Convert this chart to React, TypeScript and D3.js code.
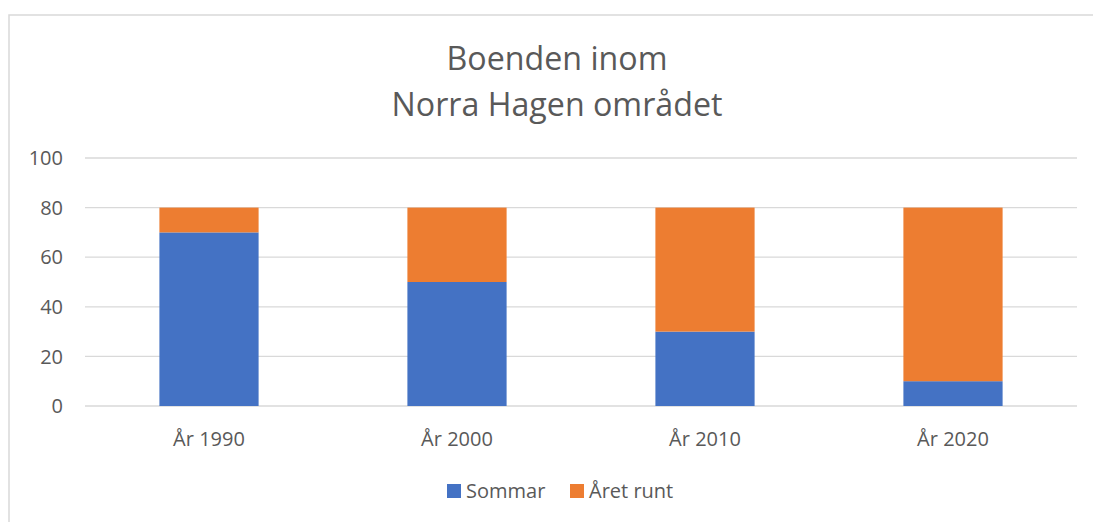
import React from "react";
import * as d3 from "d3";

const categories = ["År 1990", "År 2000", "År 2010", "År 2020"];
const sommar = [70, 50, 30, 10];
const aretRunt = [10, 30, 50, 70];
const seriesNames = ["Sommar", "Året runt"];
const yTicks = [0, 20, 40, 60, 80, 100];
const titleLines = ["Boenden inom", "Norra Hagen området"];

const W = 1093;
const H = 522;
const colors = ["#4472C4", "#ED7D31"];
const font = "'Open Sans', sans-serif";
const textColor = "#595959";

export default function App() {
  const x = d3.scaleBand<string>().domain(categories).range([85, 1077]).paddingInner(0.6).paddingOuter(0.3);
  const y = d3.scaleLinear().domain([0, 100]).range([406, 158]);
  const rows = categories.map((c, i) => ({ cat: c, Sommar: sommar[i], "Året runt": aretRunt[i] }));
  const stack = d3.stack<any>().keys(seriesNames)(rows);

  return (
    <svg width={W} height={H} style={{ position: "absolute", left: 0, top: 0 }}>
      <rect x={0} y={0} width={W} height={H} fill="#fff" />
      <rect x={9} y={15} width={W + 20} height={H + 20} fill="#fff" stroke="#d9d9d9" strokeWidth={1.5} />
      {titleLines.map((t, i) => (
        <text key={t} x={557} y={70 + i * 46} textAnchor="middle" fontFamily={font} fontSize={32.2} fill={textColor}>
          {t}
        </text>
      ))}
      {yTicks.map((t) => (
        <g key={t}>
          <line x1={85} x2={1077} y1={y(t)} y2={y(t)} stroke="#d9d9d9" strokeWidth={1.3} />
          <text x={63} y={y(t)} dy="0.36em" textAnchor="end" fontFamily={font} fontSize={20} fill={textColor}>
            {t}
          </text>
        </g>
      ))}
      {stack.map((s, si) =>
        s.map((d: any, i: number) => (
          <rect
            key={si + "-" + i}
            x={x(categories[i])}
            width={x.bandwidth()}
            y={y(d[1])}
            height={y(d[0]) - y(d[1])}
            fill={colors[si]}
          />
        ))
      )}
      {categories.map((c) => (
        <text key={c} x={(x(c) as number) + x.bandwidth() / 2} y={446} textAnchor="middle" fontFamily={font} fontSize={20} fill={textColor}>
          {c}
        </text>
      ))}
      {seriesNames.map((n, i) => (
        <g key={n} transform={`translate(${i === 0 ? 447 : 570},484)`}>
          <rect x={0} y={0} width={14} height={14} fill={colors[i]} />
          <text x={19} y={14} fontFamily={font} fontSize={20} fill={textColor}>
            {n}
          </text>
        </g>
      ))}
    </svg>
  );
}
